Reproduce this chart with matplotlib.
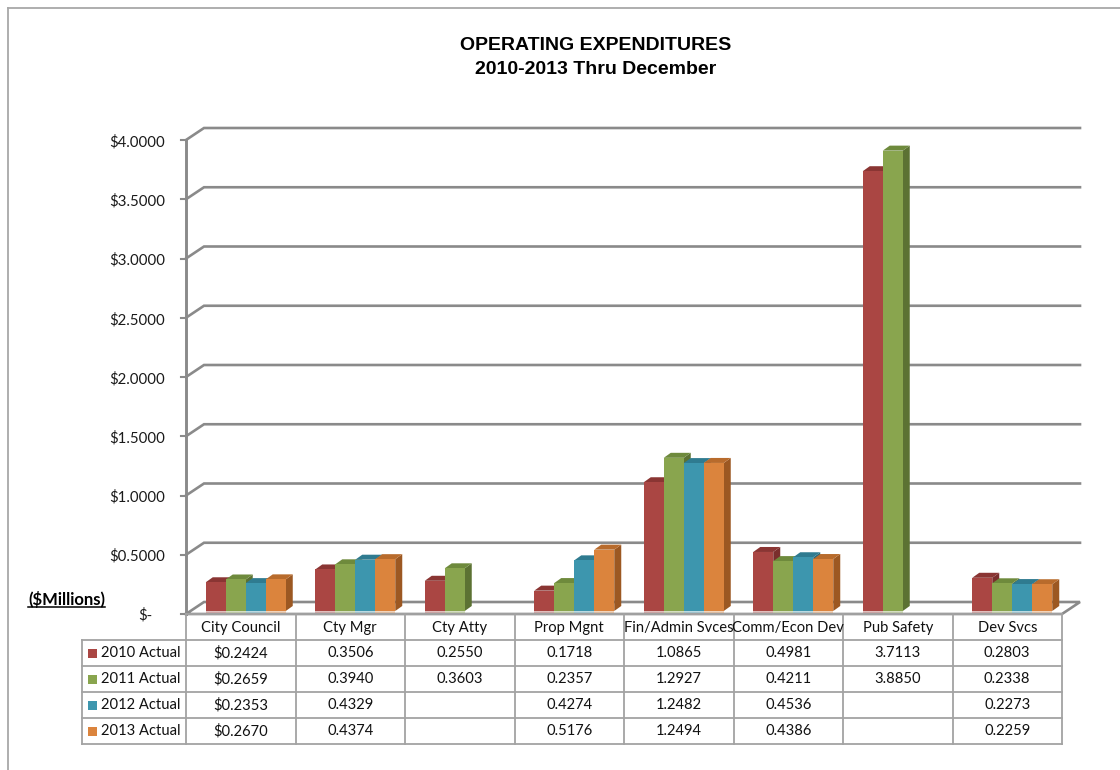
import matplotlib
matplotlib.use("Agg")
import matplotlib.pyplot as plt
from matplotlib.patches import Polygon, Rectangle
from matplotlib.lines import Line2D
from matplotlib.transforms import offset_copy

# ---------------------------------------------------------------- data
categories = ["City Council", "Cty Mgr", "Cty Atty", "Prop Mgnt",
              "Fin/Admin Svces", "Comm/Econ Dev", "Pub Safety", "Dev Svcs"]
series_names = ["2010 Actual", "2011 Actual", "2012 Actual", "2013 Actual"]
actual_2010 = [0.2424, 0.3506, 0.2550, 0.1718, 1.0865, 0.4981, 3.7113, 0.2803]
actual_2011 = [0.2659, 0.3940, 0.3603, 0.2357, 1.2927, 0.4211, 3.8850, 0.2338]
actual_2012 = [0.2353, 0.4329, None, 0.4274, 1.2482, 0.4536, None, 0.2273]
actual_2013 = [0.2670, 0.4374, None, 0.5176, 1.2494, 0.4386, None, 0.2259]
series_values = [actual_2010, actual_2011, actual_2012, actual_2013]
# first column of the table carries a dollar sign
table_prefix = ["$", "", "", "", "", "", "", ""]

y_ticks = [0.0, 0.5, 1.0, 1.5, 2.0, 2.5, 3.0, 3.5, 4.0]
y_tick_labels = ["$-", "$0.5000", "$1.0000", "$1.5000", "$2.0000",
                 "$2.5000", "$3.0000", "$3.5000", "$4.0000"]

title_lines = ["OPERATING EXPENDITURES", "2010-2013 Thru December"]
unit_label = "($Millions)"

# ---------------------------------------------------------------- style
front_colors = ["#AA4643", "#89A54E", "#3D96AE", "#DB843D"]
top_colors = ["#8A3533", "#6E8A3C", "#2F7B90", "#B86B2C"]
side_colors = ["#7A2E2C", "#5C7233", "#276A7D", "#9C5822"]
grid_color = "#8A8A8A"
table_color = "#A3A3A3"
text_font = ["Lato", "DejaVu Sans"]
title_font = ["Liberation Sans", "DejaVu Sans"]
fs_table = 10.6
fs_ticks = 10.8

W, H = 1120, 770
fig = plt.figure(figsize=(W / 100, H / 100), dpi=100)
fig.patch.set_facecolor("white")


def fx(px):
    return px / W


def fy(py):
    return 1 - py / H


# front plane of the 3-D plot area (pixels)
PL, PR, PT, PB = 186, 1062, 140, 614
ymax = 4.0
ax = fig.add_axes([fx(PL), fy(PB), (PR - PL) / W, (PB - PT) / H])
ax.set_xlim(-0.5, len(categories) - 0.5)
ax.set_ylim(0, ymax)
ax.axis("off")

ux = (PR - PL) / len(categories)   # pixels per category
uy = (PB - PT) / ymax              # pixels per $1M


def dpx(dx, dy):
    """pixel offset (right, up) -> data offset"""
    return dx / ux, dy / uy


wall_dx, wall_dy = dpx(18, 12)     # depth of the back wall
bar_dx, bar_dy = dpx(5, 3)         # bars sit slightly behind the front plane
depth_dx, depth_dy = dpx(7, 5)     # thickness of each column
bar_w = 20 / ux
x_left, x_right = -0.5, len(categories) - 0.5

# back-wall gridlines with the left side-wall diagonal
for v in y_ticks[1:]:
    ax.plot([x_left, x_left + wall_dx, x_right + wall_dx],
            [v, v + wall_dy, v + wall_dy],
            color=grid_color, lw=1.9, clip_on=False, zorder=1,
            solid_joinstyle="miter")

# floor outline
ax.plot([x_left, x_left + wall_dx, x_right + wall_dx, x_right, x_left],
        [0, wall_dy, wall_dy, 0, 0],
        color=grid_color, lw=1.9, clip_on=False, zorder=1,
        solid_joinstyle="miter")

# vertical value axis with tick marks and labels
ax.plot([x_left, x_left], [0, ymax], color=grid_color, lw=2.1,
        clip_on=False, zorder=2)
tick_len = 5 / ux
for v, lab in zip(y_ticks, y_tick_labels):
    ax.plot([x_left - tick_len, x_left], [v, v], color=grid_color, lw=1.5,
            clip_on=False, zorder=2)
    if v == 0:
        tr = offset_copy(ax.transData, fig=fig, x=-34, y=-1, units="dots")
    else:
        tr = offset_copy(ax.transData, fig=fig, x=-21, y=-2, units="dots")
    ax.text(x_left, v, lab, transform=tr, ha="right", va="center",
            fontsize=fs_ticks, family=text_font, color="#1A1A1A")

# 3-D columns
n_series = len(series_values)
for k, vals in enumerate(series_values):
    xs, hs = [], []
    for i, v in enumerate(vals):
        if v is None:
            continue
        xs.append(i + bar_dx + (k - (n_series - 1) / 2) * bar_w)
        hs.append(v)
    ax.bar(xs, hs, width=bar_w, bottom=bar_dy, color=front_colors[k],
           linewidth=0, clip_on=False, zorder=12 + 3 * k)
    for xc, v in zip(xs, hs):
        x0, x1 = xc - bar_w / 2, xc + bar_w / 2
        b, t = bar_dy, bar_dy + v
        side = Polygon([(x1, b), (x1 + depth_dx, b + depth_dy),
                        (x1 + depth_dx, t + depth_dy), (x1, t)],
                       closed=True, facecolor=side_colors[k], lw=0,
                       clip_on=False, zorder=10 + 3 * k)
        top = Polygon([(x0, t), (x1, t), (x1 + depth_dx, t + depth_dy),
                       (x0 + depth_dx, t + depth_dy)],
                      closed=True, facecolor=top_colors[k], lw=0,
                      clip_on=False, zorder=11 + 3 * k)
        ax.add_patch(side)
        ax.add_patch(top)
        # faint reflection on the floor
        ax.add_patch(Rectangle((x0, b - 2 / uy), bar_w, 2 / uy,
                               facecolor=front_colors[k], alpha=0.35, lw=0,
                               clip_on=False, zorder=9))

# ---------------------------------------------------------------- data table
col_edges = [PL + i * ux for i in range(len(categories) + 1)]
row_edges = [614, 640, 666, 692, 718, 744]
legend_left = 82


def hline(x0, x1, y):
    fig.add_artist(Line2D([fx(x0), fx(x1)], [fy(y), fy(y)],
                          color=table_color, lw=1.3))


def vline(x, y0, y1):
    fig.add_artist(Line2D([fx(x), fx(x)], [fy(y0), fy(y1)],
                          color=table_color, lw=1.3))


hline(PL, PR, row_edges[0])
for y in row_edges[1:]:
    hline(legend_left, PR, y)
vline(legend_left, row_edges[1], row_edges[-1])
for x in col_edges:
    vline(x, row_edges[0], row_edges[-1])

for i, cat in enumerate(categories):
    cx = (col_edges[i] + col_edges[i + 1]) / 2
    fig.text(fx(cx), fy((row_edges[0] + row_edges[1]) / 2 + 1), cat,
             ha="center", va="center", fontsize=fs_table, family=text_font,
             color="#111111")

for k, (name, vals) in enumerate(zip(series_names, series_values)):
    cy = (row_edges[k + 1] + row_edges[k + 2]) / 2
    fig.add_artist(Rectangle((fx(88), fy(cy + 4.5)), 9 / W, 9 / H,
                             facecolor=front_colors[k], lw=0))
    fig.text(fx(101), fy(cy), name, ha="left", va="center",
             fontsize=fs_table, family=text_font, color="#111111")
    for i, v in enumerate(vals):
        if v is None:
            continue
        cx = (col_edges[i] + col_edges[i + 1]) / 2
        fig.text(fx(cx), fy(cy), f"{table_prefix[i]}{v:.4f}", ha="center",
                 va="center", fontsize=fs_table, family=text_font,
                 color="#111111")

# ---------------------------------------------------------------- titles
fig.text(fx(596), fy(45), title_lines[0], ha="center", va="center",
         fontsize=14, fontweight="bold", family=title_font)
fig.text(fx(596), fy(69), title_lines[1], ha="center", va="center",
         fontsize=14, fontweight="bold", family=title_font)

unit_txt = fig.text(fx(28), fy(599), unit_label, ha="left", va="center",
                    fontsize=12, fontweight="bold", family=text_font)
fig.canvas.draw()
bb = unit_txt.get_window_extent().transformed(fig.transFigure.inverted())
fig.add_artist(Line2D([bb.x0, bb.x1], [bb.y0 + 1 / H, bb.y0 + 1 / H],
                      color="black", lw=1.1))

# outer chart frame (left and top edges)
fig.add_artist(Line2D([fx(8), fx(8)], [fy(8), fy(H)], color="#A8A8A8", lw=1.3))
fig.add_artist(Line2D([fx(8), fx(W)], [fy(8), fy(8)], color="#A8A8A8", lw=1.3))

fig.savefig("out.png", dpi=100, facecolor="white")
